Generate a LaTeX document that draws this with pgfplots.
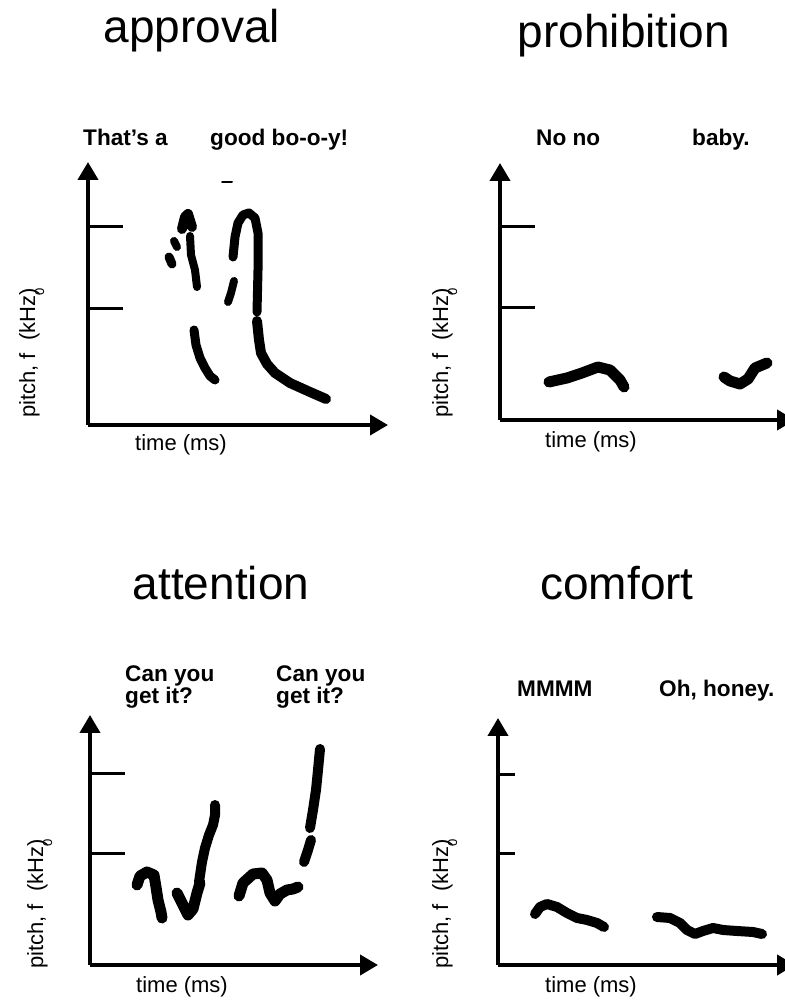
\documentclass[border=0pt]{standalone}
\usepackage{fontspec}
\setmainfont{Liberation Sans}
\usepackage{pgfplots}
\pgfplotsset{compat=1.18}
\usetikzlibrary{arrows.meta}
\pgfplotsset{
  panel/.style={
    x=1pt, y=1pt, anchor=south west,
    axis lines=left, enlargelimits=false, clip=false,
    xtick=\empty, yticklabels={},
    tick align=inside, major tick length=35pt,
    y tick style={line width=3pt,black},
    axis line style={line width=4pt,black},
    x axis line style={-{Triangle[length=18pt,width=20pt]}},
    y axis line style={-{Triangle[length=18pt,width=20pt]}},
  },
  stroke/.style={black, line width=10pt, line cap=round, line join=round, no marks},
}
\newcommand{\ylab}{pitch, f\hspace{0.55em}(kHz\makebox[0pt][l]{\raisebox{-0.42em}{\fontsize{13}{13}\selectfont 0}})}
\begin{document}
\begin{tikzpicture}[x=1pt,y=1pt]
% ---------- approval
\begin{axis}[panel, at={(88pt,575pt)}, xmin=88, xmax=388, ymin=-425, ymax=-162, ytick={-309,-227}]
\addplot[stroke, line width=2pt] coordinates {(222,-182) (232,-182)};
\addplot[stroke, line width=10pt] coordinates {(182,-229) (185,-217) (188,-214) (192,-227)};
\addplot[stroke, line width=8pt] coordinates {(174,-241) (177,-247)};
\addplot[stroke, line width=9pt] coordinates {(169,-257) (172,-264)};
\addplot[stroke, line width=8pt] coordinates {(190,-236) (191,-255) (195,-270) (197,-287)};
\addplot[stroke, line width=9pt] coordinates {(194,-330) (196,-345) (200,-358) (205,-368) (210,-376) (215,-380)};
\addplot[stroke, line width=9pt] coordinates {(233,-257) (235,-237) (238,-223) (243,-215) (249,-213) (255,-218) (258,-233) (258,-270) (257,-312)};
\addplot[stroke, line width=8pt] coordinates {(234,-281) (231,-293) (228,-302)};
\addplot[stroke, line width=10pt] coordinates {(257,-321) (259,-340) (261,-353) (267,-364) (275,-373) (290,-383) (310,-392) (326,-399)};
\end{axis}
% ---------- prohibition
\begin{axis}[panel, at={(500pt,580pt)}, xmin=500, xmax=795, ymin=-420, ymax=-163, ytick={-308,-227}]
\addplot[stroke, line width=11pt] coordinates {(549,-382) (567,-378) (582,-373) (598,-367) (610,-370) (620,-380) (624,-387)};
\addplot[stroke, line width=11pt] coordinates {(724,-377) (730,-381) (740,-384) (748,-379) (755,-368) (767,-363)};
\end{axis}
% ---------- attention
\begin{axis}[panel, at={(90pt,35pt)}, xmin=90, xmax=378, ymin=-965, ymax=-715, ytick={-854,-774}]
\addplot[stroke, line width=11pt] coordinates {(137,-885) (140,-876) (147,-872) (154,-875) (156,-887) (158,-900) (161,-912) (162,-918)};
\addplot[stroke, line width=11pt] coordinates {(177,-893) (182,-903) (188,-915) (193,-909) (197,-893) (200,-883)};
\addplot[stroke] coordinates {(199,-882) (202,-862) (205,-848) (209,-835) (213,-825) (215,-815) (215,-805)};
\addplot[stroke, line width=11pt] coordinates {(239,-896) (243,-883) (253,-874) (262,-873) (267,-880) (270,-893) (275,-901) (280,-894) (287,-890) (293,-889) (298,-887)};
\addplot[stroke] coordinates {(304,-862) (308,-850) (311,-840)};
\addplot[stroke] coordinates {(310,-828) (313,-810) (316,-790) (318,-770) (320,-749)};
\end{axis}
% ---------- comfort
\begin{axis}[panel, at={(498pt,35pt)}, xmin=498, xmax=795, ymin=-965, ymax=-718, ytick={-854,-775}, major tick length=17pt]
\addplot[stroke] coordinates {(535,-914) (540,-907) (547,-904) (557,-907) (567,-913) (577,-918) (587,-920) (597,-923) (604,-927)};
\addplot[stroke] coordinates {(657,-917) (670,-918) (680,-923) (687,-930) (695,-934) (703,-931) (713,-928) (723,-930) (737,-931) (753,-932) (762,-934)};
\end{axis}
% ---------- titles
\begin{scope}[every node/.style={font=\fontsize{46}{50}\selectfont, anchor=base, inner sep=0pt}]
\node at (192,957) {approval};
\node at (624,952) {prohibition};
\node at (221,400) {attention};
\node at (617,400) {comfort};
\end{scope}
% ---------- phrases
\begin{scope}[every node/.style={font=\fontsize{22.6}{20}\selectfont\bfseries, anchor=base west, inner sep=0pt}]
\node at (83,854) {That’s a};
\node at (210,854) {good bo-o-y!};
\node at (536,854) {No no};
\node at (692,854) {baby.};
\node[align=left] at (125,296) {Can you\\get it?};
\node[align=left] at (276,296) {Can you\\get it?};
\node at (517,303) {MMMM};
\node at (659,303) {Oh, honey.};
\end{scope}
% ---------- axis labels
\begin{scope}[every node/.style={font=\fontsize{22}{24}\selectfont, anchor=base, inner sep=0pt}]
\node at (181,549) {time (ms)};
\node at (591,552) {time (ms)};
\node at (182,7) {time (ms)};
\node at (591,7) {time (ms)};
\end{scope}
\begin{scope}[every node/.style={font=\fontsize{22}{24}\selectfont, anchor=base, rotate=90, inner sep=0pt}]
\node at (35,647) {\ylab};
\node at (448,647) {\ylab};
\node at (43,96) {\ylab};
\node at (448,96) {\ylab};
\end{scope}
\pgfresetboundingbox
\path[use as bounding box] (0,0) rectangle (784,1000);
\end{tikzpicture}
\end{document}
